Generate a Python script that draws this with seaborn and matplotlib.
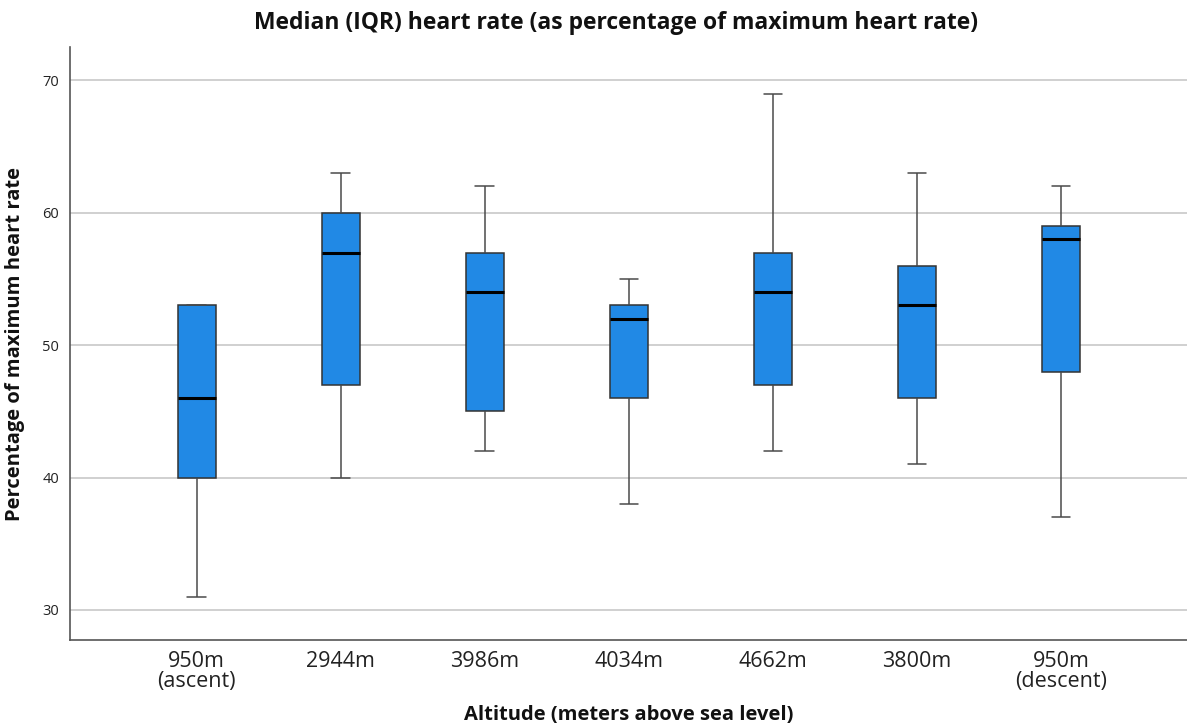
import numpy as np
import pandas as pd
import matplotlib
matplotlib.use("Agg")
import matplotlib.pyplot as plt
import seaborn as sns

# Altitude stages and five-number summaries (% of maximum heart rate)
stages = ["950m\n(ascent)", "2944m", "3986m", "4034m", "4662m", "3800m", "950m\n(descent)"]
minimum = [31, 40, 42, 38, 42, 41, 37]
lower_quartile = [40, 47, 45, 46, 47, 46, 48]
median = [46, 57, 54, 52, 54, 53, 58]
upper_quartile = [53, 60, 57, 53, 57, 56, 59]
maximum = [53, 63, 62, 55, 69, 63, 62]

# Long-format table: one row per summary value, so the box quartiles and
# whisker ends land exactly on the listed statistics.
rows = []
for i, s in enumerate(stages):
    for v in (minimum[i], lower_quartile[i], median[i], upper_quartile[i], maximum[i]):
        rows.append({"stage": s, "pct": v})
df = pd.DataFrame(rows)

sns.set_theme(style="white")
plt.rcParams["font.family"] = ["Open Sans", "DejaVu Sans"]

fig = plt.figure(figsize=(11.87, 7.28), dpi=100)
ax = fig.add_axes([0.059, 0.121, 0.941, 0.814])

ax.yaxis.grid(True, color="#c8c8c8", linewidth=1.2)
ax.set_axisbelow(True)

sns.boxplot(
    data=df, x="stage", y="pct", order=stages, ax=ax,
    whis=(0, 100), width=0.26, color="#2189E5", saturation=1,
    linecolor="#4a4a4a", linewidth=1.1,
    medianprops=dict(color="black", linewidth=2.2),
    boxprops=dict(edgecolor="#333333"),
)

ax.set_ylim(27.74, 72.5)
ax.set_xlim(-0.88, 6.875)
ax.set_yticks([30, 40, 50, 60, 70])
ax.tick_params(axis="y", length=0, labelsize=10.5, pad=8, labelcolor="#222222")
ax.tick_params(axis="x", length=0, labelsize=15.5, pad=8, labelcolor="#222222")
for lab in ax.get_xticklabels():
    lab.set_linespacing(0.95)

for side in ("top", "right"):
    ax.spines[side].set_visible(False)
for side in ("left", "bottom"):
    ax.spines[side].set_color("#555555")
    ax.spines[side].set_linewidth(1.2)

ax.set_xlabel("Altitude (meters above sea level)", fontsize=14.5, fontweight="bold",
              labelpad=9, color="#111111")
ax.set_ylabel("Percentage of maximum heart rate", fontsize=14.5, fontweight="bold",
              labelpad=12, color="#111111")
fig.text(0.519, 0.969, "Median (IQR) heart rate (as percentage of maximum heart rate)",
         ha="center", va="center", fontsize=16.5, fontweight="bold", color="#111111")

fig.savefig("out.png", dpi=100)
